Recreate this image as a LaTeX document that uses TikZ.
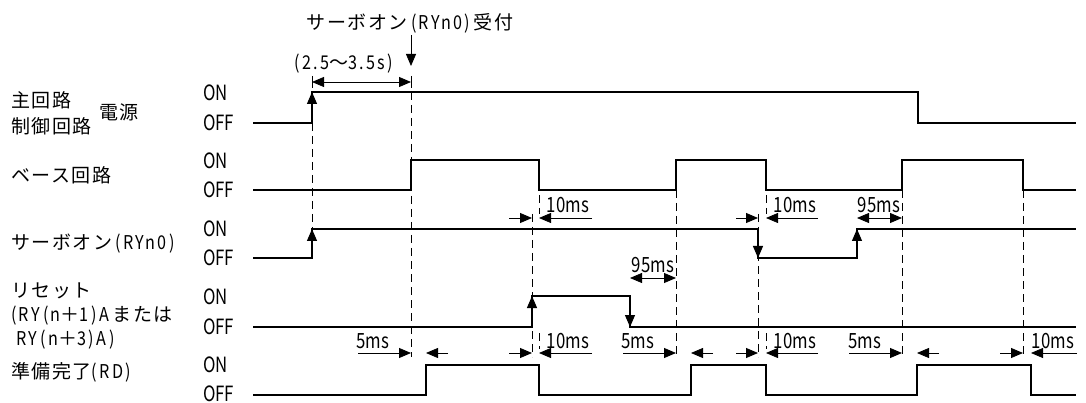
\documentclass[tikz,border=0pt]{standalone}
\usepackage{fontspec}
\setmainfont{Noto Sans CJK JP}[LetterSpace=8]
\newfontfamily\narrowfont{Noto Sans CJK JP}[FakeStretch=0.8]
\newfontfamily\latinfont{Noto Sans CJK JP}[FakeStretch=0.85,LetterSpace=12]
\usetikzlibrary{arrows.meta}
\newcommand{\nr}[1]{{\latinfont #1}}

\begin{document}
\begin{tikzpicture}[
    x=1pt,y=-1pt,
    tip/.style={-{Triangle[length=12pt,width=10pt]}},
    tips/.style={{Triangle[length=12pt,width=10pt]}-{Triangle[length=12pt,width=10pt]}},
    sig/.style={line width=1.2pt},
    sigbold/.style={line width=1.8pt},
    guide/.style={line width=0.8pt,dash pattern=on 8pt off 5pt},
    dimline/.style={line width=0.8pt},
    jplabel/.style={anchor=west,inner sep=0pt,font=\fontsize{19}{21}\selectfont},
    lvl/.style={anchor=west,inner sep=0pt,font=\fontsize{21}{23}\selectfont\narrowfont},
    mslabel/.style={inner sep=0pt,font=\fontsize{21}{23}\selectfont\narrowfont}
  ]
    \useasboundingbox (0,0) rectangle (1086,403);

    % signal names
    \node[jplabel] (mainA) at (11,100) {主回路};
    \node[jplabel] (mainB) at (11,126) {制御回路};
    \node[jplabel] (power) at (99,112) {電源};
    \node[jplabel] (base) at (11,175) {ベース回路};
    \node[jplabel] (servo) at (11,244) {サーボオン\,\nr{(RYn0)}};
    \node[jplabel] (resetA) at (11,291) {リセット};
    \node[jplabel] (resetB) at (11,316) {\nr{(RY\,(n}＋\nr{1)\,A}\,または};
    \node[jplabel] (resetC) at (16,340) {\nr{RY\,(n}＋\nr{3)\,A)}};
    \node[jplabel] (ready) at (11,372) {準備完了\nr{(RD)}};

    % ON / OFF levels
    \node[lvl] (on1) at (203,93) {ON};
    \node[lvl] (off1) at (203,123) {OFF};
    \node[lvl] (on2) at (203,161) {ON};
    \node[lvl] (off2) at (203,190) {OFF};
    \node[lvl] (on3) at (203,229) {ON};
    \node[lvl] (off3) at (203,258) {OFF};
    \node[lvl] (on4) at (203,297) {ON};
    \node[lvl] (off4) at (203,327) {OFF};
    \node[lvl] (on5) at (203,365) {ON};
    \node[lvl] (off5) at (203,394) {OFF};

    % guide lines
    \draw[guide] (312,123) -- (312,258);
    \draw[guide] (411,92) -- (411,357);
    \draw[guide] (532,214) -- (532,357);
    \draw[guide] (676,190) -- (676,357);
    \draw[guide] (758,214) -- (758,357);
    \draw[guide] (902,190) -- (902,357);
    \draw[guide] (1023,190) -- (1023,357);
    \draw[guide] (539,195) -- (539,214);
    \draw[guide] (539,333) -- (539,349);
    \draw[guide] (766,195) -- (766,214);
    \draw[guide] (766,333) -- (766,349);

    % waveforms
    \draw[sig] (253,123) -- (312,123) -- (312,92) -- (918,92) -- (918,123) -- (1076,123);
    \draw[sig] (253,190) -- (411,190) -- (411,160) -- (539,160) -- (539,190) -- (676,190)
      -- (676,160) -- (766,160) -- (766,190) -- (902,190) -- (902,160) -- (1023,160)
      -- (1023,190) -- (1076,190);
    \draw[sigbold] (253,258) -- (312,258) -- (312,229) -- (758,229) -- (758,258) -- (857,258)
      -- (857,229) -- (1076,229);
    \draw[sigbold] (253,327) -- (532,327) -- (532,296) -- (630,296) -- (630,327) -- (1076,327);
    \draw[sig] (253,395) -- (426,395) -- (426,365) -- (539,365) -- (539,395) -- (691,395)
      -- (691,365) -- (766,365) -- (766,395) -- (917,395) -- (917,365) -- (1031,365)
      -- (1031,395) -- (1076,395);

    % edge arrows
    \draw[sig,tip] (312,112) -- (312,92);
    \draw[sig,tip] (312,247) -- (312,229);
    \draw[sig,tip] (758,240) -- (758,258);
    \draw[sig,tip] (857,247) -- (857,229);
    \draw[sig,tip] (532,314) -- (532,296);
    \draw[sig,tip] (630,309) -- (630,327);

    % servo-on accepted
    \node[jplabel,anchor=center] (accept) at (410,23) {サーボオン\,\nr{(RYn0)}\,受付};
    \draw[dimline,tip] (411,35) -- (411,66);
    \node[jplabel,anchor=center] (delay) at (344,64) {\nr{(2.5}〜\nr{3.5s)}};
    \draw[dimline] (312,76) -- (312,88);
    \draw[dimline] (411,76) -- (411,88);
    \draw[dimline,tips] (312,82) -- (411,82);

    % timings on servo row
    \draw[dimline,tip] (509,218) -- (532,218);
    \draw[dimline,tip] (592,218) -- (539,218);
    \node[mslabel] (t10a) at (568,205) {10ms};
    \draw[dimline,tip] (736,218) -- (758,218);
    \draw[dimline,tip] (818,218) -- (766,218);
    \node[mslabel] (t10b) at (795,205) {10ms};
    \draw[dimline,tips] (857,218) -- (902,218);
    \node[mslabel] (t95a) at (879,205) {95ms};

    % timing on reset row
    \draw[dimline,tips] (630,278) -- (676,278);
    \node[mslabel] (t95b) at (653,265) {95ms};

    % timings on ready row
    \draw[dimline,tip] (358,353) -- (411,353);
    \draw[dimline,tip] (448,353) -- (426,353);
    \node[mslabel] (t5a) at (373,341) {5ms};
    \draw[dimline,tip] (509,353) -- (532,353);
    \draw[dimline,tip] (592,353) -- (539,353);
    \node[mslabel] (t10c) at (568,341) {10ms};
    \draw[dimline,tip] (623,353) -- (676,353);
    \draw[dimline,tip] (713,353) -- (691,353);
    \node[mslabel] (t5b) at (638,341) {5ms};
    \draw[dimline,tip] (736,353) -- (758,353);
    \draw[dimline,tip] (818,353) -- (766,353);
    \node[mslabel] (t10d) at (795,341) {10ms};
    \draw[dimline,tip] (849,353) -- (902,353);
    \draw[dimline,tip] (939,353) -- (917,353);
    \node[mslabel] (t5c) at (865,341) {5ms};
    \draw[dimline,tip] (1000,353) -- (1023,353);
    \draw[dimline,tip] (1077,353) -- (1031,353);
    \node[mslabel] (t10e) at (1053,341) {10ms};
  \end{tikzpicture}
\end{document}
